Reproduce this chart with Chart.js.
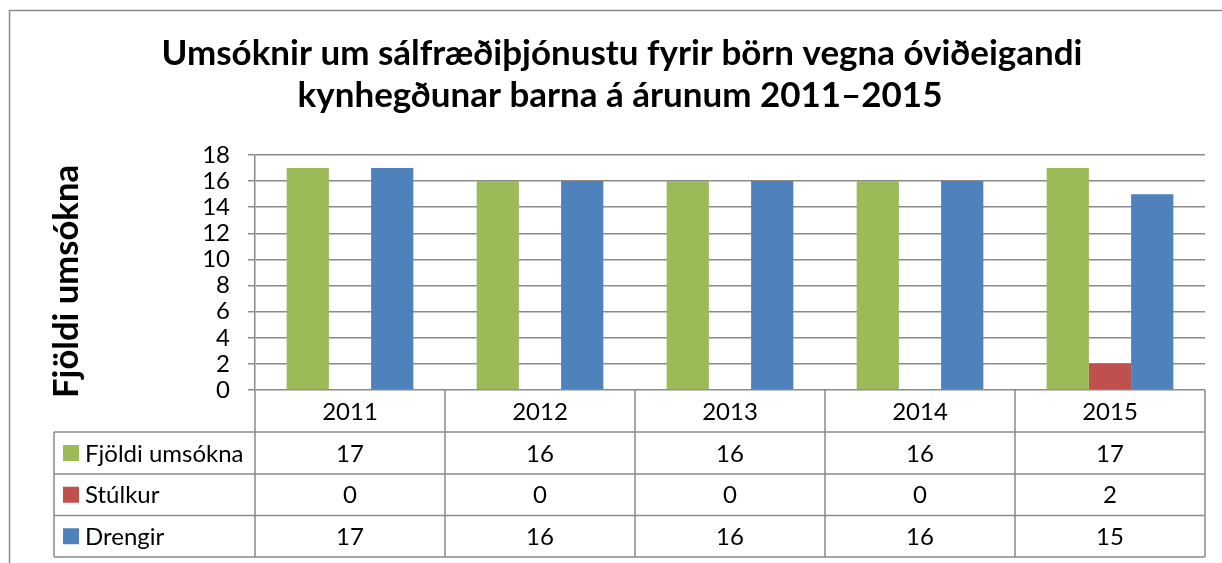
<!DOCTYPE html>
<html>
<head>
<meta charset="utf-8">
<script src="https://cdn.jsdelivr.net/npm/chart.js@4"></script>
<style>
html,body{margin:0;padding:0;background:#fff;}
#wrap{width:1222px;height:563px;position:relative;}
</style>
</head>
<body>
<div id="wrap"><canvas id="c" width="1222" height="563"></canvas></div>
<script>
// ---- data ----
const categories = ['2011', '2012', '2013', '2014', '2015'];
const seriesNames = ['Fjöldi umsókna', 'Stúlkur', 'Drengir'];
const fjoldiUmsokna = [17, 16, 16, 16, 17];
const stulkur = [0, 0, 0, 0, 2];
const drengir = [17, 16, 16, 16, 15];
const yTicks = [0, 2, 4, 6, 8, 10, 12, 14, 16, 18];
const titleLines = ['Umsóknir um sálfræðiþjónustu fyrir börn vegna óviðeigandi', 'kynhegðunar barna á árunum 2011–2015'];
const yTitle = 'Fjöldi umsókna';

// ---- styling ----
const colors = ['#9BBB59', '#C0504D', '#4F81BD'];
const LINE = '#8a8a8a';
const FONT = 'Lato, "Open Sans", sans-serif';
const LABEL_SIZE = 24;

function fitSize(text, targetW, weight) {
  const cv = document.createElement('canvas').getContext('2d');
  cv.font = weight + ' 100px ' + FONT;
  return 100 * targetW / cv.measureText(text).width;
}
const titleSize = fitSize(titleLines[0], 921, 'bold');
const yTitleSize = fitSize(yTitle, 233, 'bold');

const seriesValues = [fjoldiUmsokna, stulkur, drengir];

const decor = {
  id: 'decor',
  afterDraw(chart) {
    const ctx = chart.ctx;
    const x = chart.scales.x;
    const area = chart.chartArea;
    ctx.save();
    // outer frame
    ctx.strokeStyle = LINE;
    ctx.lineWidth = 1.5;
    ctx.strokeRect(9.5, 10.5, 1400, 700);

    // title
    ctx.fillStyle = '#000';
    ctx.textAlign = 'center';
    ctx.textBaseline = 'alphabetic';
    ctx.font = 'bold ' + titleSize.toFixed(2) + 'px ' + FONT;
    ctx.fillText(titleLines[0], 622, 65);
    ctx.fillText(titleLines[1], 620, 107);

    // y title
    ctx.save();
    ctx.translate(78, 281.5);
    ctx.rotate(-Math.PI / 2);
    ctx.font = 'bold ' + yTitleSize.toFixed(2) + 'px ' + FONT;
    ctx.textAlign = 'center';
    ctx.textBaseline = 'alphabetic';
    ctx.fillText(yTitle, 0, 0);
    ctx.restore();

    // data table
    const half = (x.getPixelForValue(1) - x.getPixelForValue(0)) / 2;
    const left = area.left, right = area.right;
    const tableLeft = 54;
    const top = area.bottom;
    const rowH = [42, 42, 41.5, 41.5];
    const ys = [top];
    rowH.forEach(h => ys.push(ys[ys.length - 1] + h));
    ctx.strokeStyle = LINE;
    ctx.lineWidth = 1.5;
    ctx.beginPath();
    for (let r = 1; r < ys.length; r++) {
      ctx.moveTo(tableLeft, ys[r]);
      ctx.lineTo(right, ys[r]);
    }
    ctx.moveTo(tableLeft, ys[1]);
    ctx.lineTo(tableLeft, ys[ys.length - 1]);
    ctx.moveTo(left, top);
    ctx.lineTo(left, ys[ys.length - 1]);
    categories.forEach((c, i) => {
      const xr = x.getPixelForValue(i) + half;
      ctx.moveTo(xr, top);
      ctx.lineTo(xr, ys[ys.length - 1]);
    });
    ctx.stroke();

    ctx.fillStyle = '#000';
    ctx.font = LABEL_SIZE + 'px ' + FONT;
    ctx.textAlign = 'center';
    ctx.textBaseline = 'middle';
    categories.forEach((c, i) => {
      const cx = x.getPixelForValue(i);
      ctx.fillText(c, cx, (ys[0] + ys[1]) / 2 + 1);
      seriesValues.forEach((vals, s) => {
        ctx.fillText(String(vals[i]), cx, (ys[s + 1] + ys[s + 2]) / 2 + 1);
      });
    });
    ctx.textAlign = 'left';
    seriesNames.forEach((n, s) => {
      const cy = (ys[s + 1] + ys[s + 2]) / 2;
      ctx.fillStyle = colors[s];
      ctx.fillRect(63, cy - 8, 16, 16);
      ctx.fillStyle = '#000';
      ctx.fillText(n, 85, cy + 1);
    });
    ctx.restore();
  }
};

new Chart(document.getElementById('c'), {
  type: 'bar',
  data: {
    labels: categories,
    datasets: seriesNames.map((n, s) => ({
      label: n,
      data: seriesValues[s],
      backgroundColor: colors[s],
      borderWidth: 0,
      categoryPercentage: 3 / 4.5,
      barPercentage: 1
    }))
  },
  options: {
    responsive: false,
    animation: false,
    layout: { padding: { left: 0, right: 17, top: 155, bottom: 173 } },
    plugins: { legend: { display: false }, tooltip: { enabled: false }, title: { display: false } },
    scales: {
      x: { display: false, offset: true },
      y: {
        min: 0, max: 18,
        afterBuildTicks(scale) { scale.ticks = yTicks.map(v => ({ value: v })); },
        afterFit(scale) { scale.width = 255; },
        ticks: { color: '#000', font: { family: FONT, size: LABEL_SIZE }, padding: 18, autoSkip: false },
        grid: { color: LINE, lineWidth: 1.5, tickLength: 7, drawTicks: true },
        border: { color: LINE, width: 1.5 }
      }
    }
  },
  plugins: [decor]
});
</script>
</body>
</html>
